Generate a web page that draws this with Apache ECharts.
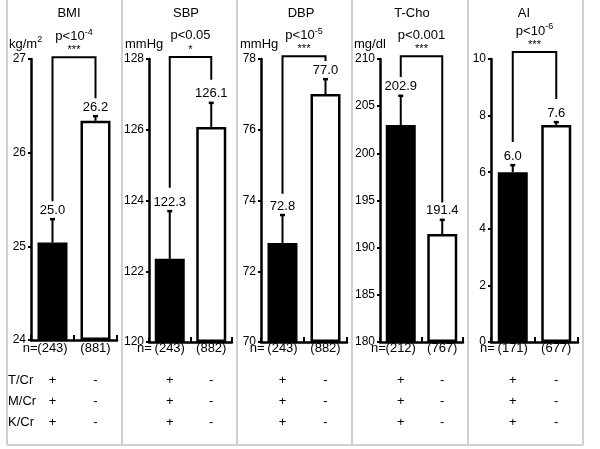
<!DOCTYPE html>
<html><head><meta charset="utf-8">
<script src="https://cdn.jsdelivr.net/npm/echarts@6/dist/echarts.min.js"></script>
<style>html,body{margin:0;padding:0;background:#fff}#c{width:600px;height:449px}</style>
</head><body><div id="c"></div>
<script>
// ---------- data ----------
const panelTitles = ['BMI', 'SBP', 'DBP', 'T-Cho', 'AI'];
const units = ['kg/m{sup|2}', 'mmHg', 'mmHg', 'mg/dl', ''];
const yMin = [24, 120, 70, 180, 0];
const yMax = [27, 128, 78, 210, 10];
const yInterval = [1, 2, 2, 5, 2];
const meanPos = [25.04, 122.35, 72.80, 203.0, 6.0];   // T/Cr+, M/Cr+, K/Cr+
const meanNeg = [26.34, 126.08, 77.01, 191.45, 7.67]; // T/Cr-, M/Cr-, K/Cr-
const errPos = [0.25, 1.35, 0.79, 3.1, 0.25];
const errNeg = [0.05, 0.68, 0.42, 1.5, 0.1];
const labelPos = ['25.0', '122.3', '72.8', '202.9', '6.0'];
const labelNeg = ['26.2', '126.1', '77.0', '191.4', '7.6'];
const nPos = ['(243)', '(243)', '(243)', '(212)', '(171)'];
const nNeg = ['(881)', '(882)', '(882)', '(767)', '(677)'];
const nPrefix = ['n=', 'n=', 'n=', 'n=', 'n='];
const pText = ['p<10{sup|-4}', 'p<0.05', 'p<10{sup|-5}', 'p<0.001', 'p<10{sup|-6}'];
const stars = ['***', '*', '***', '***', '***'];
const bracketTop = [27.02, 128.06, 78.08, 210.3, 10.25];
const bracketLeft = [25.48, 124.36, 74.19, 208.1, 7.07];
const bracketRight = [26.58, 127.41, 77.94, 194.8, 8.59];
const rowNames = ['T/Cr', 'M/Cr', 'K/Cr'];
const rowMarks = ['+', '-'];

// ---------- layout ----------
const FONT = '"Liberation Sans", Arial, Helvetica, sans-serif';
const gridLeft = [31, 149, 261, 380, 491];
const gridWidth = [86, 83, 86, 83, 87];
const gridHeight = [281, 283, 283, 283, 283];
const gridTop = 59;
const titleX = [69, 186, 301, 412, 524];
const unitX = [9, 125, 240, 354, 0];
const sepX = [7, 122, 237, 352, 468, 583];
const rowY = [380, 401, 422];
const nY = 348;

const chart = echarts.init(document.getElementById('c'), null, {renderer: 'canvas'});

function errRender(i) {
  return function (params, api) {
    const x = api.value(0), m = api.value(1), e = api.value(2);
    const p0 = api.coord([x, m]), p1 = api.coord([x, m + e]);
    const lbl = params.dataIndex === 0 ? labelPos[i] : labelNeg[i];
    return {type: 'group', children: [
      {type: 'line', shape: {x1: p0[0], y1: p0[1], x2: p1[0], y2: p1[1]}, style: {stroke: '#000', lineWidth: 2}},
      {type: 'line', shape: {x1: p1[0] - 2.5, y1: p1[1], x2: p1[0] + 2.5, y2: p1[1]}, style: {stroke: '#000', lineWidth: 2.5}},
      {type: 'text', style: {text: lbl, x: p1[0], y: p1[1] - 9, align: 'center', verticalAlign: 'middle',
        fontSize: 13, fontFamily: FONT, fill: '#000'}}
    ]};
  };
}
function brRender(i) {
  return function (params, api) {
    const xa = api.value(0), xb = api.value(1);
    const pl = api.coord([xa, api.value(3)]);
    const tl = api.coord([xa, api.value(2)]);
    const tr = api.coord([xb, api.value(2)]);
    const pr = api.coord([xb, api.value(4)]);
    const mx = (tl[0] + tr[0]) / 2;
    return {type: 'group', children: [
      {type: 'polyline', shape: {points: [pl, tl, tr, pr]}, style: {stroke: '#000', lineWidth: 2, fill: null}},
      {type: 'text', style: {text: pText[i], x: mx, y: tl[1] - 21, align: 'center', verticalAlign: 'middle',
        fontSize: 13, lineHeight: 17, fontFamily: FONT, fill: '#000',
        rich: {sup: {fontSize: 9, lineHeight: 8, verticalAlign: 'top', fontFamily: FONT, fill: '#000'}}}},
      {type: 'text', style: {text: stars[i], x: mx, y: tl[1] - 7, align: 'center', verticalAlign: 'middle',
        fontSize: 11, fontFamily: FONT, fill: '#000'}}
    ]};
  };
}

const grids = [], xAxes = [], yAxes = [], series = [];
panelTitles.forEach((t, i) => {
  grids.push({left: gridLeft[i], top: gridTop, width: gridWidth[i], height: gridHeight[i]});
  xAxes.push({type: 'category', gridIndex: i, data: [nPos[i], nNeg[i]], boundaryGap: true,
    axisLine: {show: true, lineStyle: {color: '#000', width: 2.5}},
    axisTick: {show: true, inside: true, length: 5, alignWithLabel: false, lineStyle: {color: '#000', width: 2}},
    axisLabel: {show: false}, splitLine: {show: false}});
  yAxes.push({type: 'value', gridIndex: i, min: yMin[i], max: yMax[i], interval: yInterval[i], startValue: yMin[i],
    axisLine: {show: true, lineStyle: {color: '#000', width: 2.5}},
    axisTick: {show: true, length: 3, lineStyle: {color: '#000', width: 2}},
    axisLabel: {show: true, fontSize: 12, margin: 5, color: '#000', fontFamily: FONT},
    splitLine: {show: false}});
  series.push({type: 'bar', xAxisIndex: i, yAxisIndex: i, barWidth: 30, clip: true,
    itemStyle: {borderColor: '#000', borderWidth: 2.5},
    data: [{value: meanPos[i], itemStyle: {color: '#000'}}, {value: meanNeg[i], itemStyle: {color: '#fff'}}]});
  series.push({type: 'custom', xAxisIndex: i, yAxisIndex: i, renderItem: errRender(i), clip: false, z: 5,
    encode: {x: 0, y: 1},
    data: [[0, meanPos[i], errPos[i]], [1, meanNeg[i], errNeg[i]]]});
  series.push({type: 'custom', xAxisIndex: i, yAxisIndex: i, renderItem: brRender(i), clip: false, z: 5,
    encode: {x: 0, y: 2},
    data: [[0, 1, bracketTop[i], bracketLeft[i], bracketRight[i]]]});
});

chart.setOption({
  animation: false,
  backgroundColor: '#fff',
  textStyle: {fontFamily: FONT},
  grid: grids, xAxis: xAxes, yAxis: yAxes, series: series
});

// ---------- annotations ----------
const g = [];
function txt(text, x, y, opt) {
  g.push(Object.assign({type: 'text', x: x, y: y, silent: true, z: 10,
    style: Object.assign({text: text, fontSize: 13, fontFamily: FONT, fill: '#000',
      align: 'center', verticalAlign: 'middle', textAlign: 'center', textVerticalAlign: 'middle'}, opt || {})}));
}
// frame
sepX.forEach(x => g.push({type: 'line', silent: true, shape: {x1: x, y1: 0, x2: x, y2: 445},
  style: {stroke: '#d0d0d0', lineWidth: 2}}));
g.push({type: 'line', silent: true, shape: {x1: sepX[0], y1: 445, x2: sepX[sepX.length - 1], y2: 445},
  style: {stroke: '#d0d0d0', lineWidth: 2}});

panelTitles.forEach((t, i) => {
  txt(t, titleX[i], 13, {fontSize: 13});
  if (units[i]) txt(units[i], unitX[i], 44, {align: 'left', textAlign: 'left', lineHeight: 17,
    rich: {sup: {fontSize: 9, lineHeight: 8, verticalAlign: 'top', fontFamily: FONT, fill: '#000'}}});
  const c0 = chart.convertToPixel({xAxisIndex: i}, 0);
  const c1 = chart.convertToPixel({xAxisIndex: i}, 1);
  txt(nPos[i], c0, nY);
  txt(nNeg[i], c1, nY);
  txt(nPrefix[i], c0 - (i === 0 || i === 3 ? 15 : 18), nY, {align: 'right', textAlign: 'right'});
  rowY.forEach(y => {
    txt(rowMarks[0], c0, y);
    txt(rowMarks[1], c1, y);
  });
});
rowNames.forEach((r, k) => txt(r, 8, rowY[k], {align: 'left', textAlign: 'left'}));

chart.setOption({graphic: g});
</script></body></html>
